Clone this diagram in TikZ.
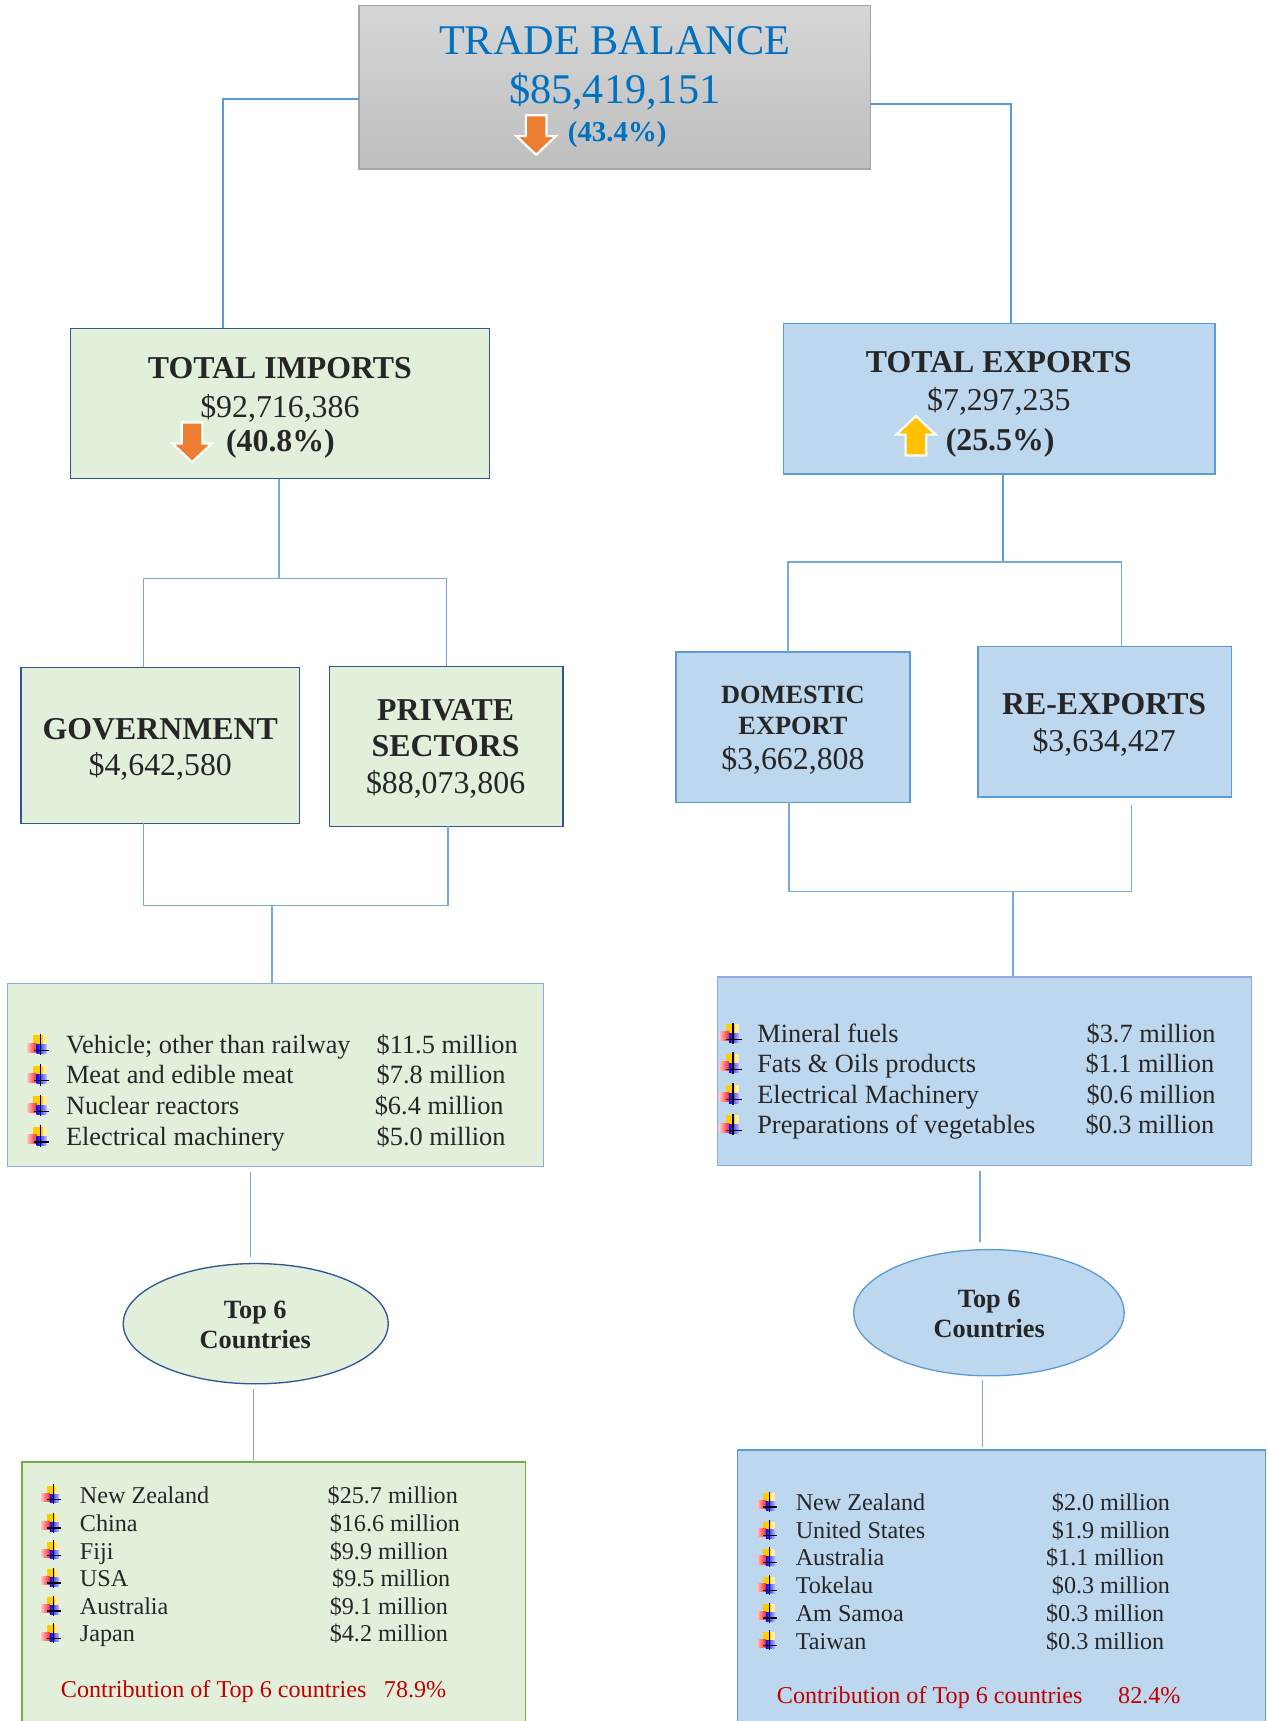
\documentclass[tikz,border=0pt]{standalone}
\usepackage{fontspec}
\setmainfont{Liberation Serif}
\usetikzlibrary{shapes.geometric,fit}
\definecolor{tblue}{RGB}{0,112,192}
\definecolor{tdark}{RGB}{38,38,38}
\definecolor{tred}{RGB}{192,0,0}
\definecolor{gfill}{RGB}{226,239,218}
\definecolor{bfill}{RGB}{189,215,238}
\definecolor{dblue}{RGB}{47,85,151}
\definecolor{mblue}{RGB}{91,155,213}
\definecolor{lblue}{RGB}{143,170,220}
\definecolor{ggreen}{RGB}{112,173,71}
\definecolor{lineblue}{RGB}{120,168,220}
\definecolor{aorange}{RGB}{237,125,49}
\definecolor{ayellow}{RGB}{255,192,0}
\definecolor{tgrayA}{RGB}{214,214,214}
\definecolor{tgrayB}{RGB}{190,190,190}
\definecolor{tgrayC}{RGB}{165,165,165}
\definecolor{byel}{RGB}{255,204,0}
\newcommand\fsz[1]{\fontsize{#1}{#1}\selectfont}
\begin{document}
\begin{tikzpicture}[x=0.5pt,y=-0.5pt,
  every node/.style={inner sep=0pt, outer sep=0pt},
  conn/.style={draw=lineblue, line width=0.65pt},
  connthick/.style={draw=mblue, line width=1.1pt},
  titlebox/.style={draw=tgrayC, line width=0.6pt, top color=tgrayA, bottom color=tgrayB, inner sep=0pt},
  gbox/.style={draw=dblue, fill=gfill, line width=0.6pt, inner sep=0pt},
  bbox/.style={draw=mblue, fill=bfill, line width=0.6pt, inner sep=0pt},
  glist/.style={draw=lblue, fill=gfill, line width=0.6pt, inner sep=0pt},
  blist/.style={draw=lblue, fill=bfill, line width=0.6pt, inner sep=0pt},
  gbot/.style={draw=ggreen, fill=gfill, line width=0.6pt, inner sep=0pt},
  bbot/.style={draw=mblue, fill=bfill, line width=0.6pt, inner sep=0pt},
  gell/.style={ellipse, draw=dblue, fill=gfill, line width=0.6pt, inner sep=0pt},
  bell/.style={ellipse, draw=mblue, fill=bfill, line width=0.6pt, inner sep=0pt},
  ttl/.style={anchor=base, text=tblue, font=\fsz{19.25}},
  ttlpct/.style={anchor=base west, text=tblue, font=\bfseries\fsz{13.15}},
  head/.style={anchor=base, text=tdark, font=\bfseries\fsz{14.5}},
  headsm/.style={anchor=base, text=tdark, font=\bfseries\fsz{12}},
  amt/.style={anchor=base, text=tdark, font=\fsz{14.5}},
  pct/.style={anchor=base west, text=tdark, font=\bfseries\fsz{14.5}},
  item/.style={anchor=base west, text=tdark, font=\fsz{12}},
  citem/.style={anchor=base west, text=tdark, font=\fsz{11}},
  contrib/.style={anchor=base west, text=tred, font=\fsz{11}},
  elltxt/.style={anchor=base, text=tdark, font=\bfseries\fsz{12}},
  darrow/.pic={\draw[fill=aorange, draw=white, line width=1pt, line join=miter]
     (-9.4,-18) -- (9.4,-18) -- (9.4,1) -- (18,1) -- (0,18) -- (-18,1) -- (-9.4,1) -- cycle;},
  uarrow/.pic={\draw[fill=ayellow, draw=white, line width=1pt, line join=miter]
     (-9.4,18) -- (9.4,18) -- (9.4,-1) -- (18,-1) -- (0,-18) -- (-18,-1) -- (-9.4,-1) -- cycle;},
  bul/.pic={
     \fill[byel] (-3.3,-8.2) rectangle (5.2,0);
     \fill[byel!35] (5.2,-8.2) rectangle (8.8,0);
     \shade[left color=red!25, right color=red!85] (-8.8,-1.2) rectangle (-0.3,7);
     \shade[left color=blue, right color=blue!25] (-0.3,0) rectangle (8.8,8.5);
     \draw[black, line width=0.6pt] (3.3,-9.7) -- (3.3,10);
     \draw[black, line width=0.6pt] (-2.7,5.5) -- (11.2,5.5);}
]
\useasboundingbox (0,0) rectangle (1156,1568);
\clip (0,0) rectangle (1156,1568);
\fill[white] (0,0) rectangle (1156,1568);

% ---------- boxes ----------
\node[titlebox, fit={(327,5)(793,154)}] (title) {};
\node[gbox, fit={(64,299)(446,436)}] (imp) {};
\node[bbox, fit={(714,295)(1107,432)}] (exp) {};
\node[gbox, fit={(19,608)(273,750)}] (gov) {};
\node[gbox, fit={(300,607)(513,753)}] (priv) {};
\node[bbox, fit={(616,594)(829,731)}] (dom) {};
\node[bbox, fit={(891,589)(1122,726)}] (reex) {};
\node[glist, fit={(7,896)(495,1063)}] (implist) {};
\node[blist, fit={(654,890)(1140,1062)}] (explist) {};
\node[gell, minimum width=120.7pt, minimum height=54.8pt] (impell) at (233,1206) {};
\node[bell, minimum width=123.2pt, minimum height=57.5pt] (expell) at (901,1196) {};
\node[gbot, fit={(20,1332)(479,1600)}] (impc) {};
\node[bbot, fit={(672,1321)(1153,1600)}] (expc) {};

% ---------- connectors ----------
\coordinate (tl) at (203,90);
\coordinate (tr) at (921,95);
\draw[connthick] (title.west |- tl) -- (tl) -- (imp.north -| tl);
\draw[connthick] (title.east |- tr) -- (tr) -- (exp.north -| tr);

\coordinate (ja) at (254,527);
\coordinate (ja1) at (131,527);
\coordinate (ja2) at (407,527);
\draw[conn] (imp.south -| ja) -- (ja);
\draw[conn] (gov.north -| ja1) -- (ja1) -- (ja2) -- (priv.north -| ja2);

\coordinate (jb) at (248,825);
\coordinate (jb1) at (131,825);
\coordinate (jb2) at (408,825);
\draw[conn] (gov.south -| jb1) -- (jb1) -- (jb2) -- (priv.south -| jb2);
\draw[conn] (jb) -- (implist.north -| jb);

\coordinate (jc) at (914,512);
\coordinate (jc1) at (718,512);
\coordinate (jc2) at (1022,512);
\draw[connthick, line width=0.9pt] (exp.south -| jc) -- (jc);
\draw[conn] (dom.north -| jc1) -- (jc1) -- (jc2) -- (reex.north -| jc2);

\coordinate (jd) at (923,812);
\coordinate (jd1) at (719,812);
\coordinate (jd2) at (1031,812);
\draw[conn, shorten <=3.5pt] (reex.south -| jd2) -- (jd2) -- (jd1) -- (dom.south -| jd1);
\draw[conn] (jd) -- (explist.north -| jd);

\coordinate (e1) at (228,1100);
\coordinate (e2) at (231,1300);
\coordinate (e3) at (893,1100);
\coordinate (e4) at (895,1290);
\draw[conn, shorten <=2.5pt, shorten >=3pt] (implist.south -| e1) -- (impell.north -| e1);
\draw[conn, shorten <=2.5pt] (impell.south -| e2) -- (impc.north -| e2);
\draw[conn, shorten <=2.5pt, shorten >=3.5pt] (explist.south -| e3) -- (expell.north -| e3);
\draw[conn, shorten <=2pt, shorten >=1.5pt] (expell.south -| e4) -- (expc.north -| e4);

% ---------- title ----------
\node[ttl] (tt1) at (560,50) {TRADE BALANCE};
\node[ttl] (tt2) at (560,94) {\$85,419,151};
\pic at (488.5,123) {darrow};
\node[ttlpct] (tt3) at (517.4,129.3) {(43.4\%)};

% ---------- imports / exports ----------
\node[head] (ih1) at (255,345) {TOTAL IMPORTS};
\node[amt] (ih2) at (255,380) {\$92,716,386};
\pic at (175,403) {darrow};
\node[pct] (ih3) at (206,411.7) {(40.8\%)};

\node[head] (eh1) at (910,339.8) {TOTAL EXPORTS};
\node[amt] (eh2) at (910,374.4) {\$7,297,235};
\pic at (834.5,397) {uarrow};
\node[pct] (eh3) at (861.7,410) {(25.5\%)};

% ---------- second level ----------
\node[head] (g1) at (146,673.5) {GOVERNMENT};
\node[amt] (g2) at (146,707) {\$4,642,580};
\node[head] (p1) at (406,656) {PRIVATE};
\node[head] (p2) at (406,689.3) {SECTORS};
\node[amt] (p3) at (406,723) {\$88,073,806};

\node[headsm] (d1) at (722.4,641.3) {DOMESTIC};
\node[headsm] (d2) at (722.4,669.5) {EXPORT};
\node[amt] (d3) at (722.4,701.4) {\$3,662,808};
\node[head] (r1) at (1006,651.3) {RE-EXPORTS};
\node[amt] (r2) at (1006,684.7) {\$3,634,427};

% ---------- import products ----------
\foreach \yy in {960,987.5,1015.5,1043.5} {\pic at (33.7,\yy-8.5) {bul};}
\node[item] (ip1) at (60.2,960) {Vehicle; other than railway};
\node[item] (ip2) at (60.2,987.5) {Meat and edible meat};
\node[item] (ip3) at (60.2,1015.5) {Nuclear reactors};
\node[item] (ip4) at (60.2,1043.5) {Electrical machinery};
\node[item] (iv1) at (343.2,960) {\$11.5 million};
\node[item] (iv2) at (343.2,987.5) {\$7.8 million};
\node[item] (iv3) at (341.5,1015.5) {\$6.4 million};
\node[item] (iv4) at (343.2,1043.5) {\$5.0 million};

% ---------- export products ----------
\foreach \yy in {949.8,977.1,1005,1033} {\pic at (664.5,\yy-8.5) {bul};}
\node[item] (xp1) at (690,949.8) {Mineral fuels};
\node[item] (xp2) at (690,977.1) {Fats \& Oils products};
\node[item] (xp3) at (690,1005) {Electrical Machinery};
\node[item] (xp4) at (690,1033) {Preparations of vegetables};
\node[item] (xv1) at (990,949.8) {\$3.7 million};
\node[item] (xv2) at (989,977.1) {\$1.1 million};
\node[item] (xv3) at (990,1005) {\$0.6 million};
\node[item] (xv4) at (989,1033) {\$0.3 million};

% ---------- ellipses ----------
\node[elltxt] (it6a) at (232.6,1201.5) {Top 6};
\node[elltxt] (it6b) at (232.6,1229) {Countries};
\node[elltxt] (et6a) at (901.3,1190.9) {Top 6};
\node[elltxt] (et6b) at (901.3,1218.5) {Countries};

% ---------- import countries ----------
\foreach \yy in {1369.4,1395.2,1420.4,1445.3,1470.8,1496} {\pic[scale=0.92] at (45.7,\yy-8) {bul};}
\node[citem] (ic1) at (72.8,1369.4) {New Zealand};
\node[citem] (ic2) at (72.8,1395.2) {China};
\node[citem] (ic3) at (72.8,1420.4) {Fiji};
\node[citem] (ic4) at (72.8,1445.3) {USA};
\node[citem] (ic5) at (72.8,1470.8) {Australia};
\node[citem] (ic6) at (72.8,1496) {Japan};
\node[citem] (icv1) at (298.6,1369.4) {\$25.7 million};
\node[citem] (icv2) at (300.5,1395.2) {\$16.6 million};
\node[citem] (icv3) at (300.5,1420.4) {\$9.9 million};
\node[citem] (icv4) at (302.7,1445.3) {\$9.5 million};
\node[citem] (icv5) at (300.5,1470.8) {\$9.1 million};
\node[citem] (icv6) at (300.5,1496) {\$4.2 million};
\node[contrib] (icc1) at (55.5,1547) {Contribution of Top 6 countries};
\node[contrib] (icc2) at (349.8,1547) {78.9\%};

% ---------- export countries ----------
\foreach \yy in {1376,1401.9,1426.5,1452,1477.2,1502.4} {\pic[scale=0.92] at (698,\yy-8) {bul};}
\node[citem] (ec1) at (725,1376) {New Zealand};
\node[citem] (ec2) at (725,1401.9) {United States};
\node[citem] (ec3) at (725,1426.5) {Australia};
\node[citem] (ec4) at (725,1452) {Tokelau};
\node[citem] (ec5) at (725,1477.2) {Am Samoa};
\node[citem] (ec6) at (725,1502.4) {Taiwan};
\node[citem] (ecv1) at (958.4,1376) {\$2.0 million};
\node[citem] (ecv2) at (958.4,1401.9) {\$1.9 million};
\node[citem] (ecv3) at (953.1,1426.5) {\$1.1 million};
\node[citem] (ecv4) at (958.4,1452) {\$0.3 million};
\node[citem] (ecv5) at (953.1,1477.2) {\$0.3 million};
\node[citem] (ecv6) at (953.1,1502.4) {\$0.3 million};
\node[contrib] (ecc1) at (707.9,1551.6) {Contribution of Top 6 countries};
\node[contrib] (ecc2) at (1018.8,1551.6) {82.4\%};
\end{tikzpicture}
\end{document}
